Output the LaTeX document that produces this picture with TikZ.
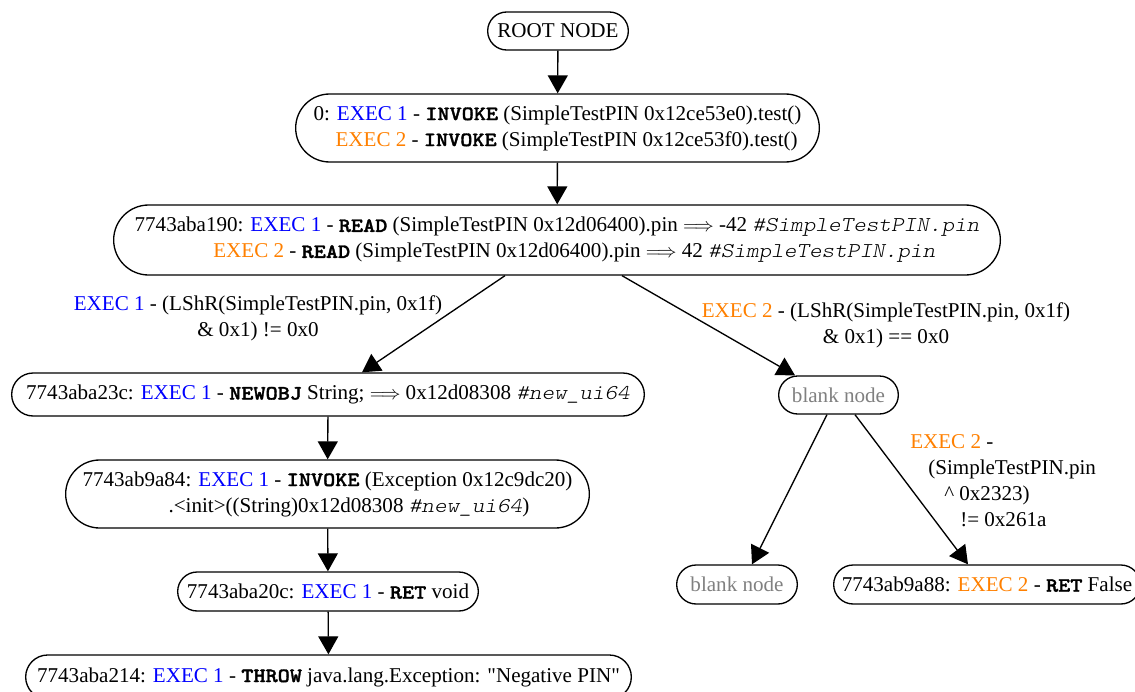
\documentclass[tikz,border=0pt]{standalone}
\usepackage{fontspec}
\setmainfont{Liberation Serif}[Ligatures=TeXOff]
\newfontfamily\opfont{lmmonolt10-bold.otf}[FakeStretch=1.14,FakeBold=1.6]
\newfontfamily\cmfont{lmmonolt10-oblique.otf}[FakeStretch=1.14]
\usetikzlibrary{shapes.misc,arrows.meta}
\definecolor{eone}{RGB}{0,0,255}
\definecolor{etwo}{RGB}{255,128,0}
\definecolor{blankgray}{RGB}{128,128,128}
\newcommand{\ea}{\textcolor{eone}{EXEC 1}}
\newcommand{\eb}{\textcolor{etwo}{EXEC 2}}
\newcommand{\op}[1]{{\fontsize{15.2}{19.5}\opfont #1}}
\newcommand{\cm}[1]{{\fontsize{15.8}{19.5}\cmfont #1}}
\begin{document}
\begin{tikzpicture}[x=0.75pt,y=-0.75pt,
  every node/.style={font=\fontsize{15.8}{19.5}\selectfont},
  box/.style={draw,line width=1pt,rounded rectangle,inner xsep=2pt,inner ysep=0pt},
  blank/.style={box,text=blankgray},
  arr/.style={line width=1pt,-{Triangle[length=13.5pt,width=15pt]}},
  lbl/.style={inner sep=0pt}]
\useasboundingbox (0,0) rectangle (1135,692);
\node[box,minimum width={146*0.75pt},minimum height={38*0.75pt}] (root) at (558,31) {ROOT NODE};
\node[box,align=left,minimum width={529*0.75pt},minimum height={68*0.75pt}] (n0) at (557.5,128)
  {0: \ea{} - \op{INVOKE} (SimpleTestPIN 0x12ce53e0).test()\\
   \hspace*{16.5pt}\eb{} - \op{INVOKE} (SimpleTestPIN 0x12ce53f0).test()};
\node[box,align=left,minimum width={892*0.75pt},minimum height={70*0.75pt}] (rd) at (557,240)
  {7743aba190: \ea{} - \op{READ} (SimpleTestPIN 0x12d06400).pin $\Longrightarrow$ -42 \cm{\#SimpleTestPIN.pin}\\
   \hspace*{59pt}\eb{} - \op{READ} (SimpleTestPIN 0x12d06400).pin $\Longrightarrow$ 42 \cm{\#SimpleTestPIN.pin}};
\node[box,minimum width={638*0.75pt},minimum height={43*0.75pt}] (nw) at (328,394.5)
  {7743aba23c: \ea{} - \op{NEWOBJ} String; $\Longrightarrow$ 0x12d08308 \cm{\#new\_ui64}};
\node[blank,minimum width={125*0.75pt},minimum height={38*0.75pt}] (bR) at (838.5,395) {blank node};
\node[box,align=left,minimum width={529*0.75pt},minimum height={68*0.75pt}] (inv) at (327.5,494)
  {7743ab9a84: \ea{} - \op{INVOKE} (Exception 0x12c9dc20)\\
   \hspace*{64.5pt}.<init>((String)0x12d08308 \cm{\#new\_ui64})};
\node[box,minimum width={306*0.75pt},minimum height={39*0.75pt}] (ret) at (328,591.5)
  {7743aba20c: \ea{} - \op{RET} void};
\node[box,minimum width={611*0.75pt},minimum height={44*0.75pt}] (thr) at (328.5,677)
  {7743aba214: \ea{} - \op{THROW} java.lang.Exception: "Negative PIN"};
\node[blank,minimum width={126*0.75pt},minimum height={39*0.75pt}] (bB) at (737,584.5) {blank node};
\node[box,minimum width={312*0.75pt},minimum height={39*0.75pt}] (rf) at (987,584.5)
  {7743ab9a88: \eb{} - \op{RET} False};
% edges
\draw[arr] (root) -- (n0);
\draw[arr] (n0) -- (rd);
\draw[arr] (rd.south -| 505,0) -- (nw.north -| 362,0);
\draw[arr] (rd.south -| 622,0) -- (bR.north -| 795,0);
\draw[arr] (nw) -- (inv);
\draw[arr] (inv) -- (ret);
\draw[arr] (ret) -- (thr);
\draw[arr] (bR.south -| 827,0) -- (bB.north -| 752,0);
\draw[arr] (bR.south -| 855,0) -- (rf.north -| 968,0);
% labels
\node[lbl,align=center] (l1) at (258,318) {\ea{} - (LShR(SimpleTestPIN.pin, 0x1f)\\ \& 0x1) != 0x0};
\node[lbl,align=center] (l2) at (886,325) {\eb{} - (LShR(SimpleTestPIN.pin, 0x1f)\\ \& 0x1) == 0x0};
\node[lbl,align=left,anchor=north west] (l3) at (910,434)
  {\eb{} -\\ \hspace*{13.5pt}(SimpleTestPIN.pin\\ \hspace*{25.5pt}\^{} 0x2323)\\ \hspace*{37.5pt}!= 0x261a};
\end{tikzpicture}
\end{document}
